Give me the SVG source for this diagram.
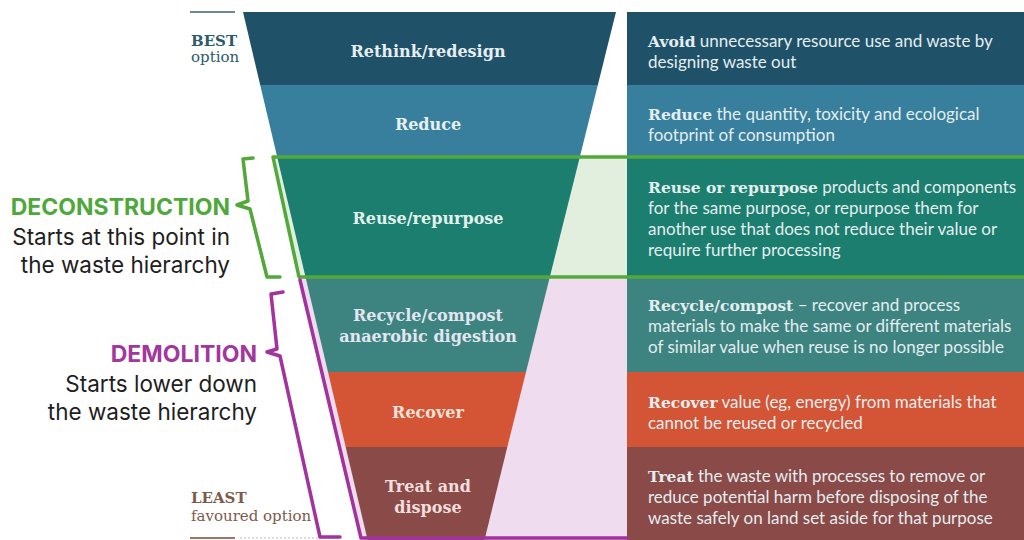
<svg xmlns="http://www.w3.org/2000/svg" width="1024" height="540" viewBox="0 0 1024 540">
<style>
.lbl{font-family:"DejaVu Serif","Liberation Serif",serif;font-weight:bold;font-size:16px;text-anchor:middle}
.desc{font-family:Lato,"Liberation Sans",sans-serif;font-size:17px;fill:#e4edef}
.desc .b{font-family:"DejaVu Serif","Liberation Serif",serif;font-weight:bold;font-size:15.5px}
.side{font-family:Inter,"Liberation Sans",sans-serif;font-size:22.5px;text-anchor:end;fill:#1e1e1e}
.sideh{font-family:Inter,"Liberation Sans",sans-serif;font-size:23px;font-weight:bold;text-anchor:end}
.rank{font-family:"DejaVu Serif","Liberation Serif",serif;font-size:15px}
.brace{fill:none;stroke-width:3.5;stroke-linejoin:round;stroke-linecap:round}
</style>
<rect width="1024" height="540" fill="#ffffff"/>
<!-- highlight fills -->
<polygon points="273,157 627,157 627,277 300,277" fill="#e2efdf"/>
<polygon points="300,279 627,279 627,540 362,540" fill="#efdcef"/>

<g id="rank-labels">
<line x1="190" y1="12" x2="235" y2="12" stroke="#6d8893" stroke-width="2"/>
<text class="rank" x="191" y="46" fill="#2d5a6c" font-weight="bold" font-size="14">BEST</text>
<text class="rank" x="191" y="62" fill="#2d5a6c">option</text>
<text class="rank" x="191" y="503" fill="#7d5a4c" font-weight="bold" font-size="14">LEAST</text>
<text class="rank" x="191" y="521" fill="#7d5a4c">favoured option</text>
<line x1="190" y1="538" x2="235" y2="538" stroke="#a07466" stroke-width="2"/>
<line x1="240" y1="538" x2="340" y2="538" stroke="#b8b8b8" stroke-width="1" stroke-dasharray="2,2"/>
</g>

<g id="rethink">
<polygon points="243,12 616,12 597.8,85 260.2,85" fill="#1f5169"/>
<rect x="627" y="12" width="397" height="73" fill="#1f5169"/>
<text class="lbl" x="428" y="57" fill="#e6eef0">Rethink/redesign</text>
<text class="desc" x="648" y="47"><tspan class="b">Avoid</tspan> unnecessary resource use and waste by</text>
<text class="desc" x="648" y="68">designing waste out</text>
</g>

<g id="reduce">
<polygon points="260.2,85 597.8,85 579.8,157 277.2,157" fill="#377f9c"/>
<rect x="627" y="85" width="397" height="72" fill="#377f9c"/>
<text class="lbl" x="428" y="130" fill="#e8f0f2">Reduce</text>
<text class="desc" x="648" y="120"><tspan class="b">Reduce</tspan> the quantity, toxicity and ecological</text>
<text class="desc" x="648" y="141">footprint of consumption</text>
</g>

<g id="reuse">
<polygon points="277.2,157 579.8,157 549.8,277 305.5,277" fill="#1b7e6e"/>
<rect x="627" y="157" width="397" height="120" fill="#1b7e6e"/>
<text class="lbl" x="428" y="224" fill="#e2f1ec">Reuse/repurpose</text>
<text class="desc" x="648" y="193" fill="#e2f1ec"><tspan class="b">Reuse or repurpose</tspan> products and components</text>
<text class="desc" x="648" y="214" fill="#e2f1ec">for the same purpose, or repurpose them for</text>
<text class="desc" x="648" y="235" fill="#e2f1ec">another use that does not reduce their value or</text>
<text class="desc" x="648" y="256" fill="#e2f1ec">require further processing</text>
</g>

<g id="recycle">
<polygon points="305.5,277 549.8,277 526,372 328,372" fill="#3d8481"/>
<rect x="627" y="277" width="397" height="95" fill="#3d8481"/>
<text class="lbl" x="428" y="321" fill="#e3e6f0">Recycle/compost</text>
<text class="lbl" x="428" y="342" fill="#e3e6f0">anaerobic digestion</text>
<text class="desc" x="648" y="311" fill="#e3e9f0"><tspan class="b">Recycle/compost</tspan> – recover and process</text>
<text class="desc" x="648" y="332" fill="#e3e9f0">materials to make the same or different materials</text>
<text class="desc" x="648" y="353" fill="#e3e9f0">of similar value when reuse is no longer possible</text>
</g>

<g id="recover">
<polygon points="328,372 526,372 507.3,447 345.7,447" fill="#d35536"/>
<rect x="627" y="372" width="397" height="75" fill="#d35536"/>
<text class="lbl" x="428" y="418" fill="#f6e2d8">Recover</text>
<text class="desc" x="648" y="408" fill="#f6e2d8"><tspan class="b">Recover</tspan> value (eg, energy) from materials that</text>
<text class="desc" x="648" y="429" fill="#f6e2d8">cannot be reused or recycled</text>
</g>

<g id="treat">
<polygon points="345.7,447 507.3,447 484.5,540 367.6,540" fill="#8a4a48"/>
<rect x="627" y="447" width="397" height="93" fill="#8a4a48"/>
<text class="lbl" x="428" y="492" fill="#f2dede">Treat and</text>
<text class="lbl" x="428" y="513" fill="#f2dede">dispose</text>
<text class="desc" x="648" y="482" fill="#f2dede"><tspan class="b">Treat</tspan> the waste with processes to remove or</text>
<text class="desc" x="648" y="503" fill="#f2dede">reduce potential harm before disposing of the</text>
<text class="desc" x="648" y="524" fill="#f2dede">waste safely on land set aside for that purpose</text>
</g>

<g id="deconstruction">
<text class="sideh" x="230" y="215" fill="#4fa83b">DECONSTRUCTION</text>
<text class="side" x="230" y="245">Starts at this point in</text>
<text class="side" x="230" y="273">the waste hierarchy</text>
</g>

<g id="demolition">
<text class="sideh" x="257" y="362" fill="#a2379c">DEMOLITION</text>
<text class="side" x="257" y="392">Starts lower down</text>
<text class="side" x="257" y="420">the waste hierarchy</text>
</g>

<g id="connectors">
<path class="brace" stroke="#52a83a" d="M1026,157 L273,157 L299,277 L1026,277"/>
<path class="brace" stroke="#52a83a" d="M253,158 L243,159 L248,201 L237,205 L250,209 L267,277 L280,277"/>
<path class="brace" stroke="#a3339c" d="M300,280 L361,538 L627,538"/>
<path class="brace" stroke="#a3339c" d="M283,292 L271,294 L277,349 L267,352 L280,356 L320,537 L340,537"/>
</g>
</svg>
